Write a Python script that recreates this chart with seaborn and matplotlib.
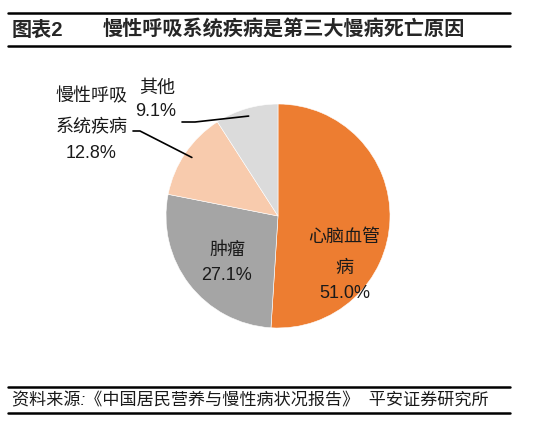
import matplotlib.pyplot as plt
import seaborn as sns
from matplotlib.lines import Line2D
import numpy as np

sns.set_theme(style="white")
plt.rcParams['font.family'] = ['Liberation Sans', 'Noto Sans CJK SC', 'DejaVu Sans']

# data
categories = ["心脑血管病", "肿瘤", "慢性呼吸系统疾病", "其他"]
shares = [51.0, 27.1, 12.8, 9.1]
colors = ["#ED7D31", "#A5A5A5", "#F8CBAD", "#DBDBDB"]

W, H = 554, 430
cx, cy, R = 278, 216, 112

fig = plt.figure(figsize=(W / 100, H / 100), dpi=100)
ax = fig.add_axes([0, 0, 1, 1])
wedges, _ = ax.pie(shares, colors=colors, startangle=90, counterclock=False,
                   radius=1, center=(0, 0),
                   wedgeprops=dict(edgecolor="white", linewidth=0.4))
ax.set_xlim(-cx / R, (W - cx) / R)
ax.set_ylim(-(H - cy) / R, cy / R)
ax.axis("off")


def px(x, y):
    return ((x - cx) / R, (cy - y) / R)


fs = 13
tc = "#1a1a1a"
# inside labels
ax.text(*px(344, 237), "心脑血管", ha="center", va="center", fontsize=fs, color=tc)
ax.text(*px(344, 268), "病", ha="center", va="center", fontsize=fs, color=tc)
ax.text(*px(345, 293), f"{shares[0]:.1f}%", ha="center", va="center", fontsize=fs, color=tc)
ax.text(*px(227, 250), "肿瘤", ha="center", va="center", fontsize=fs, color=tc)
ax.text(*px(227, 275), f"{shares[1]:.1f}%", ha="center", va="center", fontsize=fs, color=tc)

# outside labels with leader lines
ax.text(*px(91, 97), "慢性呼吸", ha="center", va="center", fontsize=fs, color=tc)
ax.text(*px(92, 128), "系统疾病", ha="center", va="center", fontsize=fs, color=tc)
ax.text(*px(91, 153), f"{shares[2]:.1f}%", ha="center", va="center", fontsize=fs, color=tc)
ax.text(*px(157, 88), "其他", ha="center", va="center", fontsize=fs, color=tc)
ax.text(*px(156, 111), f"{shares[3]:.1f}%", ha="center", va="center", fontsize=fs, color=tc)

for w, (mx, my), (ex, ey) in [(wedges[2], (140, 131), (133, 131)),
                              (wedges[3], (195, 122), (182, 122))]:
    ang = np.deg2rad((w.theta1 + w.theta2) / 2)
    sx, sy = 0.93 * np.cos(ang), 0.93 * np.sin(ang)
    p1, p2 = px(mx, my), px(ex, ey)
    ax.plot([sx, p1[0], p2[0]], [sy, p1[1], p2[1]], color="black", lw=1.2)

# title and source
fig.text(12 / W, 1 - 30 / H, "图表2", fontsize=14.5, fontweight="bold", va="center")
fig.text(103 / W, 1 - 30 / H, "慢性呼吸系统疾病是第三大慢病死亡原因", fontsize=14.5,
         fontweight="bold", va="center")
fig.text(12 / W, 1 - 400 / H, "资料来源:《中国居民营养与慢性病状况报告》  平安证券研究所",
         fontsize=12.3, va="center", fontstyle="italic", color=tc)
for y in [13, 46, 387, 413]:
    fig.add_artist(Line2D([8 / W, 510 / W], [1 - y / H, 1 - y / H], color="black", lw=1.8))

fig.savefig("out.png", dpi=100)
